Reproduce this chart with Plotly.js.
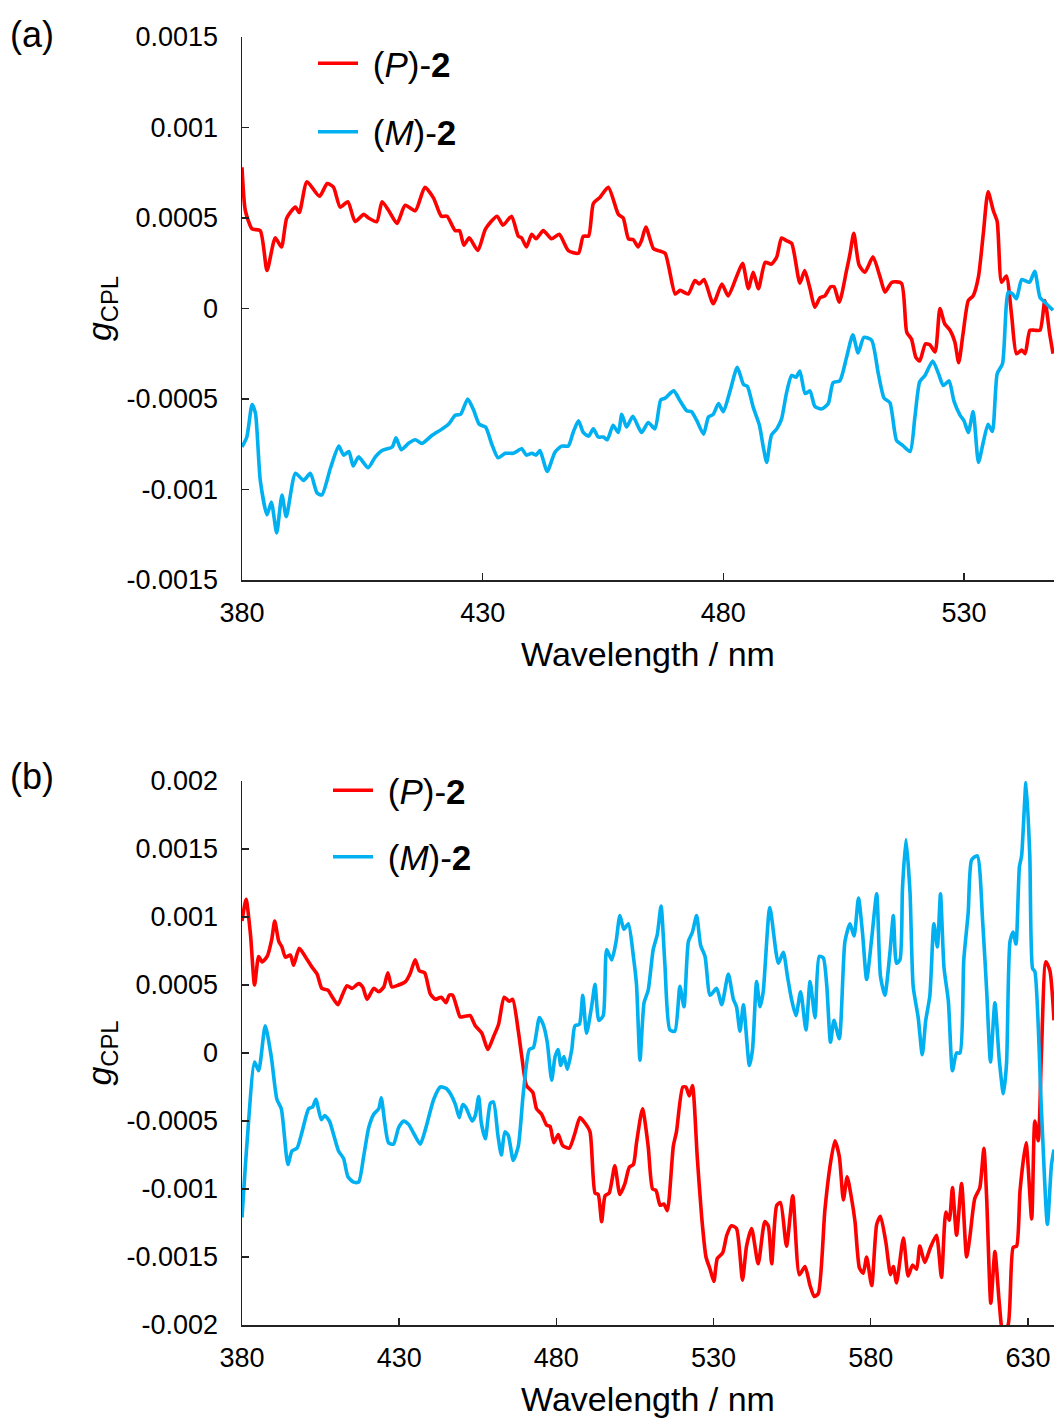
<!DOCTYPE html>
<html>
<head>
<meta charset="utf-8">
<script src="https://cdn.plot.ly/plotly-3.0.1.min.js"></script>
<style>html,body{margin:0;padding:0;background:#fff;}#chart{width:1054px;height:1419px;}</style>
</head>
<body>
<div id="chart"></div>
<script>
// ---------- Panel (a) ----------
const wlP_a = [380,380.7,382.1,383.8,385.2,386.9,388.2,389.3,391.1,391.9,393.5,396.1,397.7,399.0,400.4,402.0,403.5,405.3,406.3,408.0,409.1,410.5,412.2,413.9,416.0,418.0,419.8,421.4,422.6,424.3,425.2,426.1,427.2,429.0,430.6,433.0,434.2,436.0,437.4,438.1,439.1,440.2,441.1,442.6,444.3,445.9,447.8,449.9,450.9,452.0,453.0,454.4,456.1,458.2,459.2,460.3,461.3,462.3,463.0,463.9,465.5,466.5,467.9,470.0,471.0,472.7,474.1,475.0,476.0,477.9,479.7,481.0,482.8,484.0,485.2,486.2,487.3,488.7,490.0,491.1,492.1,493.1,494.2,495.9,496.9,498.0,499.0,500.1,501.1,502.3,503.0,504.1,505.6,506.3,507.1,508.2,509.4,511.1,512.5,513.6,515.0,517.0,518.1,519.1,520.0,520.8,522.0,522.9,524.0,525.0,526.0,527.1,528.1,528.9,529.8,530.9,531.9,533.0,534.0,535.0,536.1,536.9,537.8,538.8,539.9,540.9,542.0,542.7,543.7,544.7,545.8,546.8,547.8,548.5];
const gP_a = [7.8e-4,5.4e-4,4.4e-4,4.3e-4,2.1e-4,3.9e-4,3.4e-4,5.0e-4,5.6e-4,5.3e-4,7.0e-4,6.2e-4,6.9e-4,6.7e-4,5.6e-4,5.9e-4,4.8e-4,5.2e-4,5.0e-4,4.8e-4,5.9e-4,5.4e-4,4.7e-4,5.7e-4,5.4e-4,6.7e-4,6.1e-4,5.1e-4,5.1e-4,4.3e-4,4.3e-4,3.5e-4,3.9e-4,3.2e-4,4.4e-4,5.1e-4,4.6e-4,5.1e-4,4.0e-4,3.9e-4,3.4e-4,4.1e-4,3.85e-4,4.3e-4,3.85e-4,4.1e-4,3.2e-4,3.05e-4,4.0e-4,4.0e-4,5.8e-4,6.15e-4,6.7e-4,5.2e-4,5.0e-4,3.85e-4,3.8e-4,3.4e-4,3.75e-4,4.5e-4,3.3e-4,3.2e-4,3.05e-4,8e-5,1.0e-4,8e-5,1.55e-4,1.35e-4,1.6e-4,2.6e-5,1.35e-4,7e-5,1.8e-4,2.5e-4,1.1e-4,2.0e-4,1.1e-4,2.55e-4,2.45e-4,2.85e-4,3.9e-4,3.75e-4,3.6e-4,1.4e-4,2.1e-4,1.1e-4,7e-6,6e-5,7e-5,1.2e-4,1.2e-4,3.5e-5,2.1e-4,3.0e-4,4.15e-4,2.4e-4,2.0e-4,2.85e-4,1.8e-4,9e-5,1.45e-4,1.4e-4,-1.3e-4,-1.7e-4,-2.7e-4,-2.9e-4,-1.95e-4,-2.0e-4,-2.4e-4,0,-8.5e-5,-1.2e-4,-1.85e-4,-3.0e-4,-1.4e-4,4.4e-5,7e-5,1.75e-4,4.1e-4,6.45e-4,5.4e-4,4.8e-4,1.45e-4,1.8e-4,-3.9e-5,-2.5e-4,-2.3e-4,-2.5e-4,-1.2e-4,-1.2e-4,-1.2e-4,4.4e-5,-1.4e-4,-2.5e-4];

const wlM_a = [380,381.0,382.1,382.8,383.8,385.2,386.1,387.2,388.3,389.2,391.1,392.8,394.2,395.6,396.6,398.4,400.1,401.1,402.2,403.1,404.2,406.2,407.7,409.1,411.2,412.0,413.1,414.6,416.0,417.4,419.5,421.6,422.9,424.3,425.4,426.9,428.1,429.3,430.6,431.9,433.2,434.7,436.4,438.1,439.1,440.2,441.1,441.9,443.4,445.0,446.4,447.8,448.8,449.9,450.9,452.0,453.0,454.0,455.1,455.9,457.1,458.2,458.9,459.9,461.2,463.0,464.4,465.8,467.0,467.9,469.7,471.0,472.4,473.4,474.5,475.9,476.9,477.9,479.0,480.0,481.4,482.9,484.2,485.0,486.2,487.5,488.3,489.0,490.0,491.1,492.1,493.1,494.2,495.1,495.9,497.0,498.0,499.0,500.4,501.8,502.8,504.2,505.6,506.9,508.0,509.2,510.8,512.2,513.4,514.6,516.0,517.2,518.8,519.8,520.8,521.9,523.5,524.7,525.7,526.9,527.9,529.2,530.0,530.9,531.9,533.0,534.0,535.0,535.9,536.9,538.0,539.2,540.1,540.9,542.0,543.6,544.7,545.8,546.8,548.5];
const gM_a = [-7.65e-4,-7.1e-4,-5.3e-4,-5.8e-4,-9.5e-4,-1.14e-3,-1.07e-3,-1.24e-3,-1.03e-3,-1.15e-3,-9.1e-4,-9.5e-4,-9.1e-4,-1.02e-3,-1.03e-3,-8.8e-4,-7.6e-4,-8.1e-4,-7.9e-4,-8.7e-4,-8.2e-4,-8.8e-4,-8.2e-4,-7.85e-4,-7.65e-4,-7.15e-4,-7.8e-4,-7.45e-4,-7.25e-4,-7.45e-4,-7.0e-4,-6.65e-4,-6.4e-4,-5.9e-4,-5.85e-4,-5.0e-4,-5.6e-4,-6.4e-4,-6.55e-4,-7.5e-4,-8.25e-4,-8.0e-4,-8.0e-4,-7.75e-4,-8.1e-4,-8.0e-4,-8.1e-4,-7.85e-4,-9.0e-4,-7.95e-4,-7.6e-4,-7.6e-4,-6.85e-4,-6.2e-4,-6.85e-4,-7.05e-4,-6.65e-4,-7.1e-4,-7.1e-4,-7.25e-4,-6.45e-4,-6.85e-4,-5.85e-4,-6.55e-4,-5.95e-4,-6.85e-4,-6.3e-4,-6.65e-4,-5.05e-4,-4.95e-4,-4.55e-4,-5.1e-4,-5.65e-4,-5.7e-4,-6.2e-4,-6.95e-4,-6.0e-4,-5.85e-4,-5.25e-4,-5.7e-4,-4.55e-4,-3.25e-4,-4.2e-4,-4.3e-4,-5.45e-4,-6.45e-4,-7.65e-4,-8.5e-4,-7.0e-4,-6.65e-4,-6.1e-4,-4.7e-4,-3.7e-4,-3.8e-4,-3.45e-4,-4.7e-4,-4.55e-4,-5.4e-4,-5.55e-4,-5.25e-4,-4.1e-4,-4.0e-4,-2.7e-4,-1.45e-4,-2.45e-4,-1.6e-4,-1.75e-4,-3.6e-4,-4.95e-4,-5.2e-4,-7.3e-4,-7.55e-4,-7.9e-4,-6.0e-4,-4.05e-4,-3.7e-4,-2.9e-4,-3.6e-4,-4.25e-4,-4.0e-4,-5.1e-4,-5.9e-4,-6.2e-4,-6.85e-4,-5.7e-4,-8.5e-4,-7.4e-4,-6.4e-4,-6.8e-4,-3.6e-4,-3.05e-4,9e-5,8e-5,5.4e-5,1.6e-4,1.45e-4,2.05e-4,6e-5,3.5e-5,-1e-5];

// ---------- Panel (b) ----------
const wlP_b = [380,381.3,382.7,384.0,385.3,386.4,388.0,389.5,390.4,391.7,392.7,393.8,395.4,396.4,398.2,400.1,402.3,403.9,405.4,407.4,408.6,410.5,411.8,413.4,415.0,417.1,418.4,419.8,421.9,423.5,425.1,426.4,427.7,429.8,432.0,433.5,435.1,436.4,438.1,439.9,441.5,443.4,444.9,445.9,447.0,448.4,449.4,451.0,452.6,454.2,456.3,458.2,460.0,461.6,463.4,465.0,466.1,467.9,469.0,470.5,472.5,473.7,475.3,476.9,478.0,479.2,480.6,482.0,484.1,485.9,487.5,489.1,490.7,492.3,493.3,494.4,495.5,496.8,498.6,500.2,501.8,503.2,504.5,505.5,507.4,509.2,510.6,511.7,513.0,514.2,515.3,517.2,518.2,520.2,521.2,522.3,523.3,524.8,526.2,527.6,528.9,530.1,531.2,532.9,534.2,535.7,537.3,539.2,540.5,542.1,544.2,546.3,547.4,548.5,550.1,551.3,553.2,555.2,557.3,559.1,560.7,562.0,563.3,565.4,567.0,568.6,570.0,571.3,572.5,573.9,575.0,576.4,577.6,578.7,580.3,581.9,583.1,584.8,586.3,587.2,588.2,590.4,591.9,593.3,594.6,595.6,597.2,599.0,600.9,602.5,603.9,605.0,606.0,607.3,608.9,610.5,611.5,613.1,614.7,616.0,616.9,618.2,619.5,620.9,622.0,623.7,625.3,626.4,627.5,629.4,631.2,632.2,633.3,634.3,635.7,637.0,638.3];
const gP_b = [9.7e-4,1.13e-3,8.7e-4,5.0e-4,7.1e-4,6.7e-4,7.1e-4,8.4e-4,9.7e-4,8.2e-4,7.8e-4,7.05e-4,7.2e-4,6.45e-4,7.7e-4,7.1e-4,6.3e-4,5.8e-4,4.75e-4,4.6e-4,4.15e-4,3.55e-4,4.2e-4,4.95e-4,4.75e-4,5.1e-4,4.85e-4,3.95e-4,4.75e-4,4.5e-4,4.85e-4,5.9e-4,4.85e-4,5.0e-4,5.25e-4,5.85e-4,6.85e-4,6.05e-4,5.9e-4,4.35e-4,3.95e-4,4.1e-4,3.7e-4,4.25e-4,4.25e-4,3.3e-4,2.65e-4,2.7e-4,2.75e-4,2.0e-4,1.45e-4,2.6e-5,1.2e-4,2.1e-4,4.1e-4,3.8e-4,3.95e-4,1.6e-4,-2.6e-5,-2.4e-4,-2.9e-4,-4.1e-4,-4.5e-4,-5.3e-4,-5.4e-4,-6.6e-4,-6.0e-4,-6.8e-4,-7.0e-4,-5.9e-4,-4.75e-4,-5.15e-4,-5.8e-4,-1.03e-3,-1.04e-3,-1.24e-3,-1.05e-3,-1.03e-3,-8.3e-4,-1.04e-3,-9.6e-4,-8.4e-4,-8.2e-4,-6.6e-4,-4.1e-4,-6.85e-4,-1.0e-3,-1.01e-3,-1.12e-3,-1.11e-3,-1.16e-3,-6.85e-4,-5.8e-4,-2.5e-4,-2.5e-4,-3.15e-4,-2.4e-4,-7.6e-4,-1.2e-3,-1.5e-3,-1.59e-3,-1.68e-3,-1.51e-3,-1.47e-3,-1.34e-3,-1.27e-3,-1.29e-3,-1.67e-3,-1.42e-3,-1.29e-3,-1.55e-3,-1.24e-3,-1.27e-3,-1.55e-3,-1.12e-3,-1.1e-3,-1.42e-3,-1.05e-3,-1.63e-3,-1.57e-3,-1.71e-3,-1.79e-3,-1.77e-3,-1.16e-3,-8.4e-4,-6.45e-4,-7.6e-4,-1.08e-3,-9.1e-4,-1.07e-3,-1.24e-3,-1.58e-3,-1.62e-3,-1.5e-3,-1.71e-3,-1.26e-3,-1.2e-3,-1.39e-3,-1.63e-3,-1.57e-3,-1.69e-3,-1.36e-3,-1.64e-3,-1.56e-3,-1.59e-3,-1.42e-3,-1.54e-3,-1.43e-3,-1.34e-3,-1.65e-3,-1.17e-3,-1.23e-3,-9.9e-4,-1.34e-3,-9.6e-4,-1.5e-3,-1.36e-3,-1.07e-3,-9.9e-4,-7.0e-4,-1.08e-3,-1.84e-3,-1.46e-3,-1.84e-3,-2.05e-3,-2.0e-3,-1.43e-3,-1.42e-3,-1.01e-3,-6.6e-4,-1.22e-3,-5.0e-4,-6.45e-4,0,6.7e-4,6.05e-4,2.4e-4];

const wlM_b = [380,381.6,384.0,385.3,387.4,389.3,391.1,392.5,394.6,395.9,397.5,399.1,401.2,402.5,403.5,405.2,406.3,407.8,409.2,410.7,412.3,413.7,415.5,417.1,418.7,420.3,421.9,423.5,424.3,425.4,426.6,428.2,429.8,431.4,433.0,434.6,436.7,438.3,441.0,443.1,444.9,446.3,447.9,449.1,450.2,451.2,453.2,454.2,455.3,456.1,457.4,459.0,460.0,461.4,462.5,463.6,464.7,466.3,467.9,469.5,471.4,472.7,474.6,475.8,477.1,478.5,479.6,480.6,481.4,482.4,483.5,484.9,485.9,487.3,488.4,489.6,491.2,492.3,493.5,494.9,496.0,497.6,499.0,500.2,501.5,502.9,504.5,505.5,506.6,507.9,509.2,510.8,512.1,513.3,514.5,516.1,517.7,519.3,520.6,522.0,523.3,524.6,525.9,527.3,528.9,531.0,532.6,534.7,536.3,537.3,538.4,539.5,541.4,542.4,543.7,544.8,545.8,547.9,550.6,552.2,553.5,554.8,556.2,557.7,559.4,560.7,562.3,563.6,564.9,566.0,567.2,568.3,570.0,571.8,573.4,574.7,576.1,577.4,578.7,580.3,581.9,583.1,584.5,586.1,587.2,588.2,589.3,590.1,591.2,592.5,593.5,595.1,596.4,597.5,598.8,600.1,601.2,602.2,603.3,604.7,606.0,607.3,608.4,609.6,611.0,612.1,613.9,615.6,616.9,618.1,619.5,620.9,622.2,623.2,624.3,625.3,626.2,627.3,628.0,629.4,630.6,631.5,632.2,634.3,636.2,637.5,638.3];
const gM_b = [-1.21e-3,-6.6e-4,-6.6e-5,-1.3e-4,2.0e-4,-2.6e-5,-3.4e-4,-4.1e-4,-8.2e-4,-7.2e-4,-7.0e-4,-5.8e-4,-4.1e-4,-3.95e-4,-3.4e-4,-4.9e-4,-4.6e-4,-5.0e-4,-6.05e-4,-7.2e-4,-7.75e-4,-9.1e-4,-9.5e-4,-9.5e-4,-7.6e-4,-5.5e-4,-4.5e-4,-4.1e-4,-3.3e-4,-5.1e-4,-6.6e-4,-6.7e-4,-5.5e-4,-5.0e-4,-5.25e-4,-5.9e-4,-6.7e-4,-5.65e-4,-3.4e-4,-2.5e-4,-2.6e-4,-3.0e-4,-3.8e-4,-4.75e-4,-3.8e-4,-4.0e-4,-5.0e-4,-4.6e-4,-3.2e-4,-5.1e-4,-6.3e-4,-3.7e-4,-3.6e-4,-6.05e-4,-7.5e-4,-5.8e-4,-6.05e-4,-7.9e-4,-6.85e-4,-2.9e-4,2.6e-5,4e-5,2.6e-4,2.1e-4,7.9e-5,-2.0e-4,-2.6e-5,2.6e-5,-9.2e-5,-2.6e-5,-1.2e-4,2.6e-5,2.0e-4,2.1e-4,4.25e-4,1.45e-4,3.4e-4,5.05e-4,2.4e-4,2.75e-4,7.6e-4,6.85e-4,8.2e-4,1.01e-3,9.1e-4,9.5e-4,7.1e-4,5.0e-4,-5.3e-5,3.7e-4,4.6e-4,7.6e-4,8.7e-4,1.08e-3,6.6e-4,1.7e-4,1.6e-4,4.9e-4,3.4e-4,8.2e-4,8.9e-4,1.01e-3,7.9e-4,7.1e-4,4.25e-4,4.75e-4,3.55e-4,5.8e-4,3.95e-4,3.4e-4,1.6e-4,3.55e-4,-9.2e-5,2.6e-5,5.25e-4,3.4e-4,4.5e-4,1.07e-3,6.6e-4,7.4e-4,5.65e-4,3.95e-4,2.75e-4,4.5e-4,1.7e-4,5.25e-4,2.6e-4,7.1e-4,7.0e-4,5.0e-4,7.9e-5,2.4e-4,1.05e-4,8.2e-4,9.5e-4,8.6e-4,1.14e-3,8.8e-4,5.4e-4,8.4e-4,1.17e-3,5.65e-4,4.25e-4,7.35e-4,1.01e-3,6.6e-4,6.85e-4,1.21e-3,1.57e-3,1.18e-3,4.9e-4,2.6e-4,-1.3e-5,2.4e-4,4.2e-4,9.5e-4,7.8e-4,1.17e-3,6.3e-4,3.8e-4,-1.3e-4,0,0,6.85e-4,1.03e-3,1.42e-3,1.45e-3,9.7e-4,4.5e-4,-6.6e-5,3.7e-4,-5.3e-5,-3.0e-4,-7.9e-5,8.2e-4,8.9e-4,8.0e-4,1.37e-3,1.45e-3,1.99e-3,1.45e-3,6.2e-4,6.0e-4,-4.2e-4,-1.26e-3,-8.2e-4,-7.1e-4];

// ---------- Tick labels ----------
const yTickVals_a = [-0.0015,-0.001,-0.0005,0,0.0005,0.001,0.0015];
const yTickText_a = ['-0.0015','-0.001','-0.0005','0','0.0005','0.001','0.0015'];
const yTickVals_b = [-0.002,-0.0015,-0.001,-0.0005,0,0.0005,0.001,0.0015,0.002];
const yTickText_b = ['-0.002','-0.0015','-0.001','-0.0005','0','0.0005','0.001','0.0015','0.002'];
const xTicks_a = [380,430,480,530];
const xTicks_b = [380,430,480,530,580,630];
const seriesNames = ['(<i>P</i>)-<b>2</b>','(<i>M</i>)-<b>2</b>'];

const RED = '#FF0000', BLUE = '#00B0F0';
const FONT = 'Arial, "Liberation Sans", sans-serif';
const AX = '#222222';
const NB = '\u00A0';

function lineTrace(x, y, name, color, xa, ya, legend, group) {
  return {x: x, y: y, name: NB + name, type: 'scatter', mode: 'lines',
    line: {color: color, width: 3.6, shape: 'spline', smoothing: 0.6},
    xaxis: xa, yaxis: ya, legend: legend, legendgroup: group, hoverinfo: 'skip'};
}

const data = [
  lineTrace(wlP_a, gP_a, seriesNames[0], RED, 'x', 'y', 'legend', 'a1'),
  lineTrace(wlM_a, gM_a, seriesNames[1], BLUE, 'x', 'y', 'legend', 'a2'),
  lineTrace(wlP_b, gP_b, seriesNames[0], RED, 'x2', 'y2', 'legend2', 'b1'),
  lineTrace(wlM_b, gM_b, seriesNames[1], BLUE, 'x2', 'y2', 'legend2', 'b2')
];

const W = 1054, H = 1419;
function xAxis(range, ticks, anchor) {
  return {domain: [242 / W, 1], range: range, anchor: anchor,
    tickmode: 'array', tickvals: ticks, ticktext: ticks.map(String),
    showline: true, linecolor: AX, linewidth: 1.5, mirror: false,
    ticks: 'inside', ticklen: 7, tickwidth: 1.5, tickcolor: AX,
    showgrid: false, zeroline: false, ticklabelstandoff: 8,
    tickfont: {family: FONT, size: 27, color: '#000'},
    title: {text: 'Wavelength / nm', font: {family: FONT, size: 34, color: '#000'}, standoff: 15}};
}
function yAxis(range, vals, text, dom, anchor) {
  return {domain: dom, range: range, anchor: anchor,
    tickmode: 'array', tickvals: vals, ticktext: text,
    showline: true, linecolor: AX, linewidth: 1.5,
    ticks: 'inside', ticklen: 7, tickwidth: 1.5, tickcolor: AX,
    showgrid: false, zeroline: false, ticklabelstandoff: 17,
    tickfont: {family: FONT, size: 27, color: '#000'},
    title: {text: '<i>g</i><sub>CPL</sub>', font: {family: FONT, size: 34, color: '#000'}, standoff: 4}};
}

const layout = {
  width: W, height: H,
  margin: {l: 0, r: 0, t: 0, b: 0, pad: 0},
  paper_bgcolor: '#fff', plot_bgcolor: '#fff',
  font: {family: FONT, color: '#000'},
  showlegend: true,
  xaxis: xAxis([380, 548.7], xTicks_a, 'y'),
  yaxis: yAxis([-0.0015, 0.0015], yTickVals_a, yTickText_a, [1 - 580 / H, 1 - 37 / H], 'x'),
  xaxis2: xAxis([380, 638.3], xTicks_b, 'y2'),
  yaxis2: yAxis([-0.002, 0.002], yTickVals_b, yTickText_b, [1 - 1325 / H, 1 - 781 / H], 'x2'),
  legend: {x: 313 / W, y: 1 - 34 / H, xanchor: 'left', yanchor: 'top', bgcolor: 'rgba(0,0,0,0)',
    font: {family: FONT, size: 35, color: '#000'}, itemwidth: 40, tracegroupgap: 20, traceorder: 'grouped'},
  legend2: {x: 328 / W, y: 1 - 761 / H, xanchor: 'left', yanchor: 'top', bgcolor: 'rgba(0,0,0,0)',
    font: {family: FONT, size: 35, color: '#000'}, itemwidth: 40, tracegroupgap: 18, traceorder: 'grouped'},
  annotations: [
    {text: '(a)', xref: 'paper', yref: 'paper', x: 8 / W, y: 1 - 12 / H, xanchor: 'left', yanchor: 'top', showarrow: false, font: {family: FONT, size: 36, color: '#000'}},
    {text: '(b)', xref: 'paper', yref: 'paper', x: 8 / W, y: 1 - 754 / H, xanchor: 'left', yanchor: 'top', showarrow: false, font: {family: FONT, size: 36, color: '#000'}}
  ]
};

Plotly.newPlot('chart', data, layout, {displayModeBar: false, staticPlot: true});
</script>
</body>
</html>
